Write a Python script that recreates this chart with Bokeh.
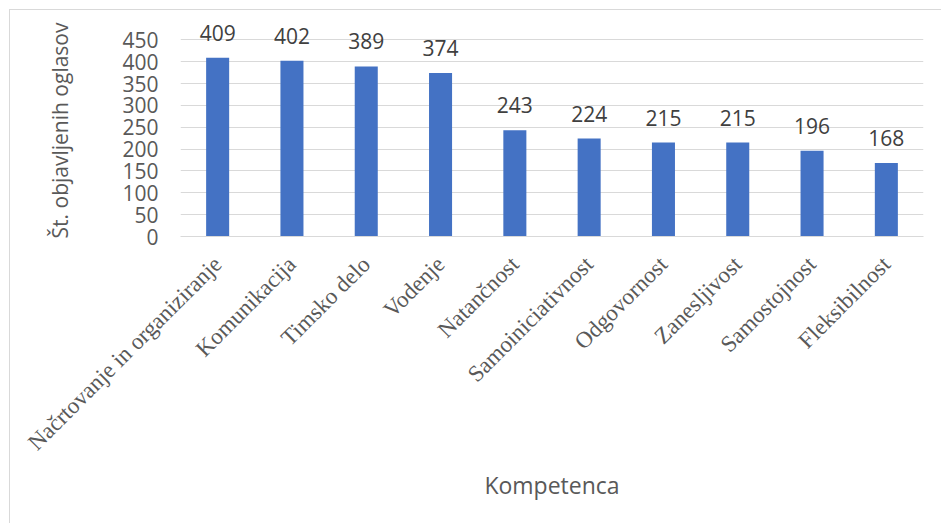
import math
from bokeh.plotting import figure
from bokeh.models import ColumnDataSource, FixedTicker, Range1d
from bokeh.core.properties import value
from bokeh.embed import file_html
from bokeh.resources import INLINE

categories = ["Načrtovanje in organiziranje", "Komunikacija", "Timsko delo", "Vodenje",
              "Natančnost", "Samoiniciativnost", "Odgovornost", "Zanesljivost",
              "Samostojnost", "Fleksibilnost"]
counts = [409, 402, 389, 374, 243, 224, 215, 215, 196, 168]
y_ticks = [0, 50, 100, 150, 200, 250, 300, 350, 400, 450]
y_title = "Št. objavljenih oglasov"
x_title = "Kompetenca"

src = ColumnDataSource(dict(cat=categories, val=counts, lab=[str(v) for v in counts]))

p = figure(x_range=categories, y_range=Range1d(0, 485), width=932, height=514,
           output_backend="svg", toolbar_location=None,
           min_border_left=170, min_border_right=19, min_border_top=14, min_border_bottom=288)
p.margin = (9, 0, 0, 9)
p.styles = {"border-left": "1px solid #d9d9d9", "border-top": "1px solid #d9d9d9"}

p.vbar(x="cat", top="val", width=0.31, source=src, fill_color="#4472C4", line_color=None)
p.text(x="cat", y="val", text="lab", source=src, text_align="center", text_baseline="alphabetic",
       y_offset=-25, text_font=value("Open Sans"), text_font_size="21px", text_color="#404040")

p.outline_line_color = None
p.xgrid.grid_line_color = None
p.ygrid.grid_line_color = "#d9d9d9"
p.ygrid.grid_line_width = 1

p.yaxis.ticker = FixedTicker(ticks=y_ticks)
p.yaxis.axis_line_color = None
p.yaxis.major_tick_line_color = None
p.yaxis.minor_tick_line_color = None
p.yaxis.major_tick_out = 0
p.yaxis.major_tick_in = 0
p.yaxis.minor_tick_out = 0
p.yaxis.major_label_text_font = "Open Sans"
p.yaxis.major_label_text_font_size = "21px"
p.yaxis.major_label_text_color = "#595959"
p.yaxis.major_label_standoff = 22
p.yaxis.axis_label = y_title
p.yaxis.axis_label_text_font = "Open Sans"
p.yaxis.axis_label_text_font_size = "21px"
p.yaxis.axis_label_text_font_style = "normal"
p.yaxis.axis_label_text_color = "#595959"
p.yaxis.axis_label_standoff = 45

p.xaxis.axis_line_color = "#d9d9d9"
p.xaxis.major_tick_line_color = None
p.xaxis.minor_tick_line_color = None
p.xaxis.major_tick_out = 0
p.xaxis.major_tick_in = 0
p.xaxis.major_label_orientation = math.pi / 4
p.xaxis.major_label_text_font = "Liberation Serif"
p.xaxis.major_label_text_font_size = "23px"
p.xaxis.major_label_text_color = "#595959"
p.xaxis.major_label_standoff = 24
p.xaxis.axis_label = x_title
p.xaxis.axis_label_text_font = "Open Sans"
p.xaxis.axis_label_text_font_size = "23px"
p.xaxis.axis_label_text_font_style = "normal"
p.xaxis.axis_label_text_color = "#595959"
p.xaxis.axis_label_standoff = 2

open("out.html", "w").write(file_html(p, INLINE))
